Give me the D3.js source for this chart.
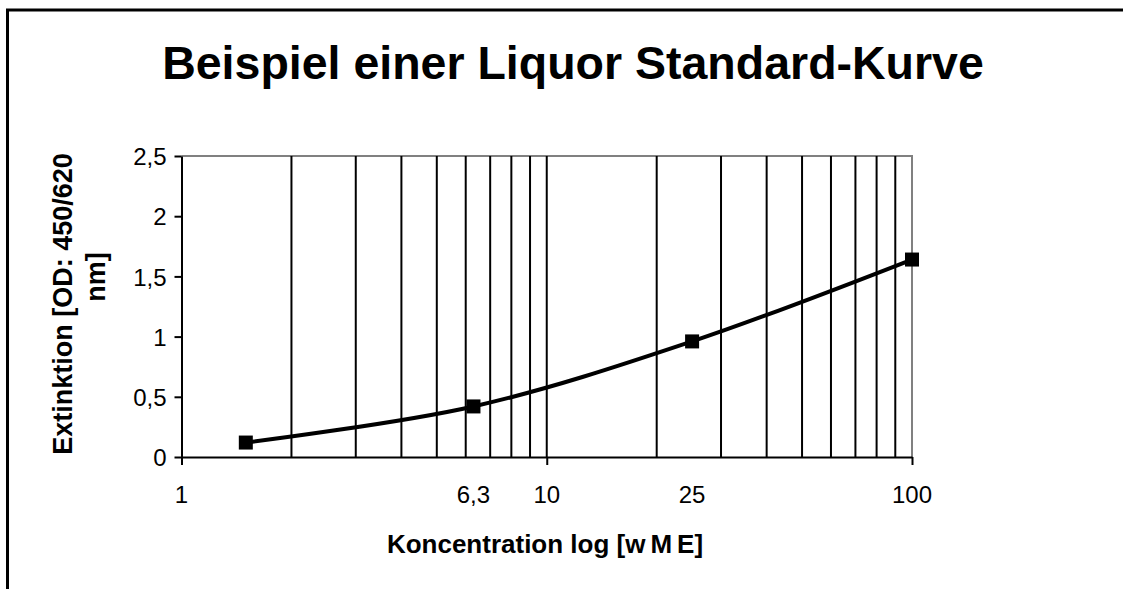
<!DOCTYPE html>
<html>
<head>
<meta charset="utf-8">
<script src="https://cdn.jsdelivr.net/npm/d3@7"></script>
<style>
  body { margin: 0; background: #fff; }
  svg { display: block; font-family: "Liberation Sans", Arial, sans-serif; }
</style>
</head>
<body>
<svg id="chart" width="1123" height="589"></svg>
<script>
// data
const concentrations = [1.5, 6.3, 25, 100];
const extinctions = [0.12, 0.42, 0.96, 1.64];
const xTickValues = [1, 6.3, 10, 25, 100];
const xTickLabels = ["1", "6,3", "10", "25", "100"];
const gridValues = [2, 3, 4, 5, 6, 7, 8, 9, 10, 20, 30, 40, 50, 60, 70, 80, 90];
const yTickValues = [0, 0.5, 1, 1.5, 2, 2.5];

const svg = d3.select("#chart");

// outer frame (picture is cut off at the bottom and right)
svg.append("path")
    .attr("d", "M7.5,600 V10 H1130")
    .attr("fill", "none")
    .attr("stroke", "#000")
    .attr("stroke-width", 3);

const plotL = 181.5, plotR = 912, plotT = 156, plotB = 457;

const x = d3.scaleLog().domain([1, 100]).range([plotL, plotR]);
const y = d3.scaleLinear().domain([0, 2.5]).range([plotB, plotT]);

// title
svg.append("text")
    .attr("x", 573)
    .attr("y", 79)
    .attr("text-anchor", "middle")
    .style("font-size", "46.5px")
    .style("font-weight", "bold")
    .text("Beispiel einer Liquor Standard-Kurve");

// plot area border (top + right, grey)
svg.append("path")
    .attr("d", `M${plotL},${plotT} H${plotR} V${plotB}`)
    .attr("fill", "none")
    .attr("stroke", "#808080")
    .attr("stroke-width", 2);

// vertical gridlines
svg.append("g")
    .selectAll("line")
    .data(gridValues)
    .enter()
    .append("line")
    .attr("x1", d => x(d))
    .attr("x2", d => x(d))
    .attr("y1", plotT)
    .attr("y2", plotB)
    .attr("stroke", "#000")
    .attr("stroke-width", 2);

// y axis
const yAxis = svg.append("g")
    .attr("transform", `translate(${plotL},0)`)
    .call(d3.axisLeft(y).tickValues(yTickValues).tickSize(7).tickSizeOuter(0)
        .tickFormat(d => String(d).replace(".", ",")));
yAxis.select(".domain").attr("stroke-width", 2);
yAxis.selectAll(".tick line").attr("stroke-width", 2);
yAxis.selectAll("text")
    .attr("x", -15)
    .attr("dy", "0.36em")
    .style("font-size", "24px")
    .attr("fill", "#000");

// x axis: ticks only at decades, labels at chosen values
const xAxis = svg.append("g")
    .attr("transform", `translate(0,${plotB})`)
    .call(d3.axisBottom(x).tickValues([1, 10, 100]).tickSize(8).tickSizeOuter(0).tickFormat(""));
xAxis.select(".domain").attr("stroke-width", 2);
xAxis.selectAll(".tick line").attr("stroke-width", 2);

svg.append("g")
    .selectAll("text")
    .data(xTickValues)
    .enter()
    .append("text")
    .attr("x", d => x(d))
    .attr("y", 503)
    .attr("text-anchor", "middle")
    .style("font-size", "24px")
    .text((d, i) => xTickLabels[i]);

// axis titles
const xTitle = svg.append("text")
    .attr("x", 545)
    .attr("y", 553)
    .attr("text-anchor", "middle")
    .style("font-size", "26px")
    .style("font-weight", "bold");
xTitle.append("tspan").text("Koncentration log [");
xTitle.append("tspan").style("letter-spacing", "5px").text("wM");
xTitle.append("tspan").text("E]");

svg.append("text")
    .attr("transform", "translate(72,304) rotate(-90)")
    .attr("text-anchor", "middle")
    .style("font-size", "27px")
    .style("font-weight", "bold")
    .text("Extinktion [OD: 450/620");

svg.append("text")
    .attr("transform", "translate(105,277) rotate(-90)")
    .attr("text-anchor", "middle")
    .style("font-size", "27px")
    .style("font-weight", "bold")
    .text("nm]");

// smoothed line
const pts = concentrations.map((c, i) => [c, extinctions[i]]);
const line = d3.line()
    .x(d => x(d[0]))
    .y(d => y(d[1]))
    .curve(d3.curveCardinal.tension(0));

svg.append("path")
    .datum(pts)
    .attr("d", line)
    .attr("fill", "none")
    .attr("stroke", "#000")
    .attr("stroke-width", 4);

// square markers
const m = 14;
svg.append("g")
    .selectAll("rect")
    .data(pts)
    .enter()
    .append("rect")
    .attr("x", d => x(d[0]) - m / 2)
    .attr("y", d => y(d[1]) - m / 2)
    .attr("width", m)
    .attr("height", m)
    .attr("fill", "#000");
</script>
</body>
</html>
